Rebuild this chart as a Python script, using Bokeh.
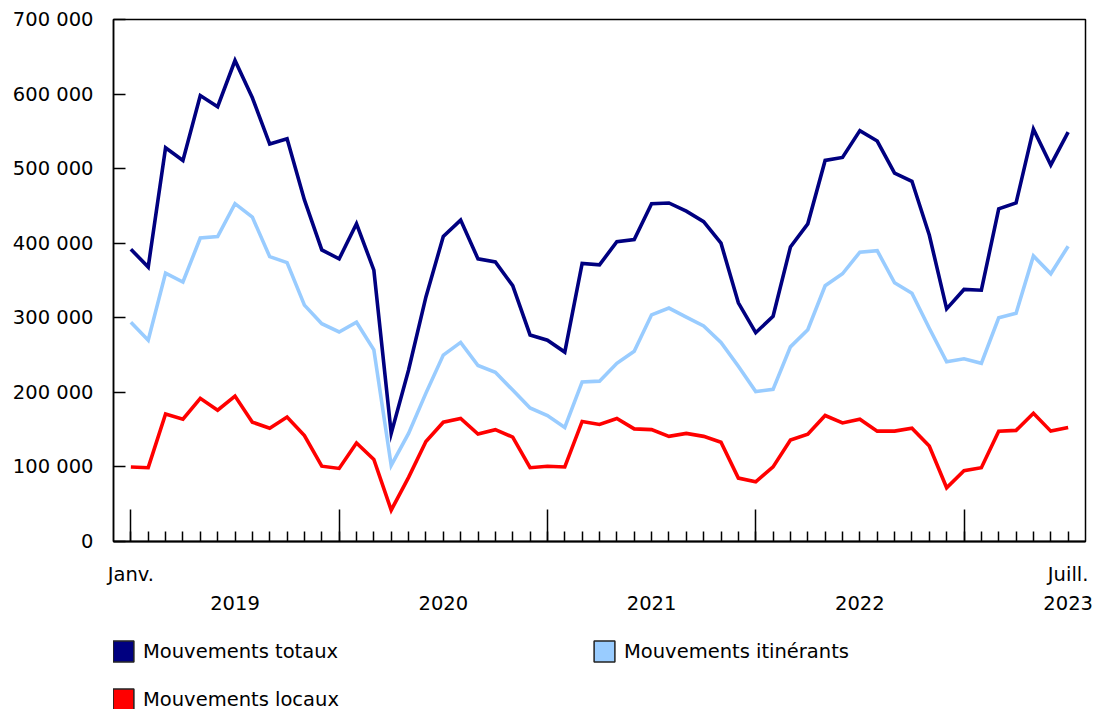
from bokeh.plotting import figure
from bokeh.models import FixedTicker, Range1d, Legend, LegendItem, LinearAxis
from bokeh.layouts import column
from bokeh.embed import file_html
from bokeh.resources import INLINE

# ---- data (monthly, Jan 2019 -> Jul 2023) ----
months = list(range(55))
totaux = [392, 368, 528, 511, 598, 583, 645, 595, 533, 540, 458, 391,
          379, 426, 364, 145, 230, 328, 409, 431, 379, 375, 343, 277,
          270, 254, 373, 371, 402, 405, 453, 454, 443, 429, 400, 320,
          280, 302, 395, 426, 511, 515, 551, 537, 494, 483, 411, 312,
          338, 337, 446, 454, 553, 505, 549]
itinerants = [294, 270, 360, 348, 407, 409, 453, 435, 382, 374, 317, 292,
              281, 294, 257, 102, 145, 199, 250, 267, 236, 227, 203, 179,
              169, 153, 214, 215, 239, 255, 304, 313, 301, 289, 267, 235,
              201, 204, 261, 284, 343, 359, 388, 390, 347, 333, 286, 241,
              245, 239, 300, 306, 383, 359, 396]
locaux = [100, 99, 171, 164, 192, 176, 195, 160, 152, 167, 142, 101,
          98, 132, 110, 42, 86, 134, 160, 165, 144, 150, 140, 99,
          101, 100, 161, 157, 165, 151, 150, 141, 145, 141, 133, 85,
          80, 100, 136, 144, 169, 159, 164, 148, 148, 152, 128, 72,
          95, 99, 148, 149, 172, 148, 153]
totaux = [v * 1000 for v in totaux]
itinerants = [v * 1000 for v in itinerants]
locaux = [v * 1000 for v in locaux]

series_names = ["Mouvements totaux", "Mouvements itinérants", "Mouvements locaux"]
series_colors = ["#000080", "#99CCFF", "#FF0000"]

y_ticks = [0, 100000, 200000, 300000, 400000, 500000, 600000, 700000]
y_labels = ["0", "100 000", "200 000", "300 000", "400 000", "500 000", "600 000", "700 000"]
year_start_ticks = [0, 12, 24, 36, 48]
month_label_ticks = [0, 54]
month_labels = ["Janv.", "Juill."]
year_label_ticks = [6, 18, 30, 42, 54]
year_labels = ["2019", "2020", "2021", "2022", "2023"]

FONT = "DejaVu Sans"
FS = "19.5px"
NAN = float("nan")

p = figure(width=1093, height=625, output_backend="svg", toolbar_location=None,
           x_range=Range1d(-1, 55), y_range=Range1d(0, 700000),
           min_border_left=113, min_border_right=8, min_border_top=19,
           min_border_bottom=84)
p.background_fill_color = "white"
p.border_fill_color = "white"
p.outline_line_color = "black"
p.outline_line_width = 1.5
p.xgrid.visible = False
p.ygrid.visible = False

# y axis
ya = p.yaxis[0]
ya.ticker = FixedTicker(ticks=y_ticks)
ya.major_label_overrides = {t: l for t, l in zip(y_ticks, y_labels)}
ya.major_tick_in = 12
ya.major_tick_out = 0
ya.minor_tick_line_color = None
ya.axis_line_color = "black"
ya.axis_line_width = 1.5
ya.major_tick_line_width = 1.5
ya.major_label_text_font = FONT
ya.major_label_text_font_size = FS
ya.major_label_text_color = "black"
ya.major_label_standoff = 20

# x axis: ticks only
xa = p.xaxis[0]
xa.ticker = FixedTicker(ticks=year_start_ticks, minor_ticks=months)
xa.major_label_overrides = {t: "" for t in year_start_ticks}
xa.major_label_text_font_size = "0px"
xa.major_label_standoff = 0
xa.major_tick_in = 32
xa.major_tick_out = 0
xa.minor_tick_in = 10
xa.minor_tick_out = 0
xa.major_tick_line_width = 1.5
xa.minor_tick_line_width = 1.5
xa.axis_line_color = "black"
xa.axis_line_width = 2

def label_axis(ticks, labels, standoff):
    ax = LinearAxis(ticker=FixedTicker(ticks=ticks),
                    major_label_overrides={t: l for t, l in zip(ticks, labels)},
                    major_tick_line_color=None, minor_tick_line_color=None,
                    axis_line_color=None, major_tick_out=0, major_tick_in=0,
                    major_label_standoff=standoff,
                    major_label_text_font=FONT, major_label_text_font_size=FS,
                    major_label_text_color="black")
    p.add_layout(ax, "below")
    return ax

label_axis(month_label_ticks, month_labels, 21)
label_axis(year_label_ticks, year_labels, 7)

for ys, c in zip([totaux, itinerants, locaux], series_colors):
    p.line(months, ys, line_color=c, line_width=3.6, line_join="miter")

# ---- legend strip (frame is aligned with the chart frame by the column layout) ----
lf = figure(width=1093, height=84, output_backend="svg", toolbar_location=None,
            x_range=Range1d(0, 1), y_range=Range1d(0, 1),
            x_axis_type=None, y_axis_type=None,
            min_border_left=0, min_border_right=0, min_border_top=0, min_border_bottom=0)
lf.outline_line_color = None
lf.xgrid.visible = False
lf.ygrid.visible = False
lf.background_fill_color = "white"
lf.border_fill_color = "white"

# legend proxies (NaN geometry: only their legend swatch is drawn)
sw = []
for c in series_colors:
    sw.append(lf.quad(left=[NAN], right=[NAN], top=[NAN], bottom=[NAN], fill_color=c,
                      line_color="#222222", line_width=1.5))

def make_legend(items, loc):
    return Legend(items=items, location=loc, orientation="vertical",
                  glyph_width=26, glyph_height=26, label_standoff=7, spacing=22,
                  padding=0, margin=0, border_line_alpha=0, background_fill_alpha=0,
                  label_text_font=FONT, label_text_font_size=FS, label_height=26,
                  label_text_color="black")

leg1 = make_legend([LegendItem(label=series_names[0], renderers=[sw[0]]),
                    LegendItem(label=series_names[2], renderers=[sw[2]])], (-3, -3))
leg2 = make_legend([LegendItem(label=series_names[1], renderers=[sw[1]])], (478, 45))
lf.add_layout(leg1)
lf.add_layout(leg2)

layout = column(p, lf, spacing=0)
open("out.html", "w").write(file_html(layout, INLINE))
